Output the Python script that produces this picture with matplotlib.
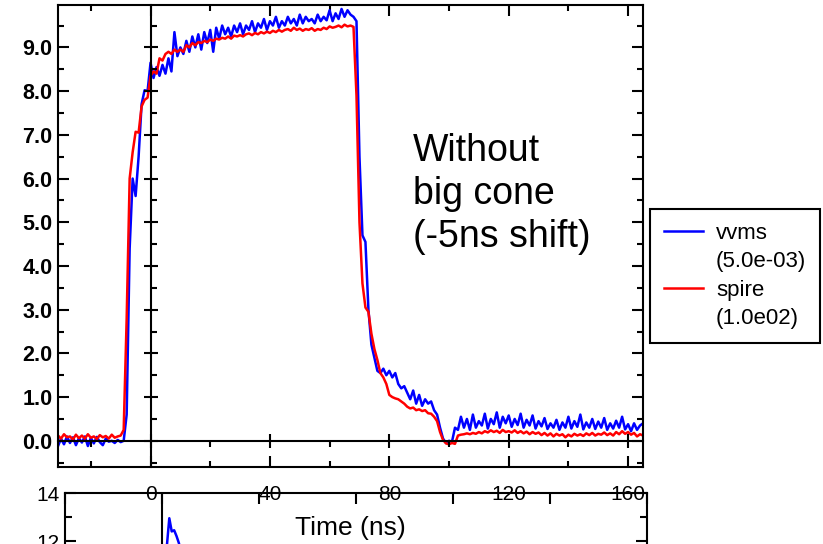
import numpy as np
import matplotlib
matplotlib.use("Agg")
import matplotlib.pyplot as plt
from matplotlib.lines import Line2D
from matplotlib.ticker import MultipleLocator, FormatStrFormatter

plt.rcParams['font.family'] = ['Liberation Sans', 'DejaVu Sans']

# sample times, 1 ns grid from -31 ns to 165 ns
time_ns = np.arange(-31, 166)

# vvms trace (scaled by 5.0e-03), one row = 10 samples
vvms = [
    -0.12, 0.05, -0.08, 0.10, -0.05, 0.08, -0.10, 0.06, -0.04, 0.10,   # -31
    -0.12, 0.07, -0.06, 0.09, -0.03, -0.10, 0.05, -0.02, 0.00, -0.05,  # -21
    0.02, -0.03, 0.00, 0.60, 4.40, 6.00, 5.60, 6.50, 7.70, 8.02,       # -11
    8.00, 8.65, 8.30, 8.55, 8.35, 8.60, 8.40, 8.75, 8.45, 9.35,        # -1
    8.80, 9.00, 8.85, 9.15, 8.90, 9.25, 9.00, 9.30, 8.95, 9.35,        # 9
    9.10, 9.40, 8.90, 9.45, 9.20, 9.50, 9.30, 9.45, 9.25, 9.50,        # 19
    9.35, 9.55, 9.30, 9.50, 9.40, 9.60, 9.35, 9.55, 9.45, 9.65,        # 29
    9.40, 9.60, 9.50, 9.70, 9.45, 9.60, 9.50, 9.70, 9.55, 9.65,        # 39
    9.50, 9.75, 9.55, 9.70, 9.60, 9.65, 9.55, 9.75, 9.60, 9.70,        # 49
    9.62, 9.85, 9.60, 9.78, 9.65, 9.88, 9.70, 9.85, 9.75, 9.70,        # 59
    9.60, 6.50, 4.70, 4.55, 3.00, 2.20, 1.90, 1.60, 1.55, 1.65,        # 69
    1.50, 1.60, 1.45, 1.55, 1.30, 1.20, 1.25, 1.10, 0.95, 1.15,        # 79
    0.85, 1.05, 0.80, 0.95, 0.85, 0.90, 0.70, 0.60, 0.30, 0.05,        # 89
    -0.05, 0.00, -0.02, 0.30, 0.25, 0.55, 0.30, 0.50, 0.25, 0.60,      # 99
    0.30, 0.45, 0.35, 0.62, 0.28, 0.50, 0.38, 0.65, 0.30, 0.55,        # 109
    0.40, 0.58, 0.32, 0.50, 0.36, 0.62, 0.30, 0.48, 0.35, 0.58,        # 119
    0.28, 0.45, 0.33, 0.52, 0.27, 0.40, 0.30, 0.48, 0.25, 0.42,        # 129
    0.30, 0.55, 0.28, 0.45, 0.32, 0.60, 0.26, 0.42, 0.30, 0.50,        # 139
    0.27, 0.44, 0.30, 0.52, 0.25, 0.40, 0.28, 0.46, 0.30, 0.55,        # 149
    0.26, 0.38, 0.22, 0.40, 0.25, 0.35, 0.40,                          # 159
]

# spire trace (scaled by 1.0e02)
spire = [
    0.12, 0.05, 0.15, 0.08, 0.10, 0.03, 0.14, 0.06, 0.12, 0.05,        # -31
    0.15, 0.07, 0.10, 0.04, 0.13, 0.08, 0.11, 0.05, 0.14, 0.07,        # -21
    0.10, 0.12, 0.25, 2.80, 6.00, 6.60, 7.07, 7.05, 7.65, 7.80,        # -11
    7.85, 8.35, 8.45, 8.40, 8.75, 8.70, 8.85, 8.90, 8.85, 8.95,        # -1
    8.90, 8.95, 8.90, 9.05, 9.00, 9.10, 9.05, 9.12, 9.10, 9.15,        # 9
    9.12, 9.18, 9.15, 9.20, 9.18, 9.22, 9.20, 9.25, 9.20, 9.27,        # 19
    9.25, 9.28, 9.25, 9.30, 9.32, 9.28, 9.33, 9.30, 9.35, 9.32,        # 29
    9.36, 9.33, 9.38, 9.35, 9.40, 9.36, 9.40, 9.42, 9.38, 9.45,        # 39
    9.40, 9.43, 9.38, 9.42, 9.40, 9.44, 9.38, 9.42, 9.40, 9.45,        # 49
    9.42, 9.48, 9.45, 9.47, 9.50, 9.46, 9.52, 9.48, 9.50, 9.47,        # 59
    7.90, 5.00, 3.60, 3.05, 2.95, 2.45, 2.10, 1.85, 1.55, 1.45,        # 69
    1.30, 1.05, 1.00, 0.97, 0.95, 0.90, 0.85, 0.78, 0.74, 0.76,        # 79
    0.70, 0.72, 0.68, 0.70, 0.63, 0.62, 0.55, 0.45, 0.20, 0.02,        # 89
    -0.06, -0.08, -0.05, -0.07, 0.12, 0.14, 0.15, 0.17, 0.15, 0.18,    # 99
    0.16, 0.20, 0.17, 0.22, 0.19, 0.24, 0.20, 0.23, 0.18, 0.25,        # 109
    0.20, 0.22, 0.19, 0.24, 0.18, 0.22, 0.17, 0.21, 0.15, 0.20,        # 119
    0.16, 0.19, 0.13, 0.18, 0.12, 0.17, 0.10, 0.16, 0.12, 0.15,        # 129
    0.08, 0.14, 0.10, 0.16, 0.12, 0.15, 0.11, 0.17, 0.13, 0.18,        # 139
    0.12, 0.16, 0.14, 0.19, 0.13, 0.17, 0.12, 0.20, 0.15, 0.22,        # 149
    0.16, 0.20, 0.14, 0.18, 0.10, 0.15, 0.12,                          # 159
]

series_names = ["vvms", "spire"]
series_scales = ["(5.0e-03)", "(1.0e02)"]
note = "Without\nbig cone\n(-5ns shift)"

# the next panel below, only its top edge is inside the picture
lower_t = [0.5, 1.0, 1.5, 2.0, 2.5, 3.0, 3.5, 4.0, 5.0]
lower_v = [9.0, 11.8, 12.95, 12.4, 12.45, 12.2, 11.9, 11.2, 10.5]

fig = plt.figure(figsize=(8.23, 5.44), dpi=100)

# lower panel first so the main axis labels sit on top of it
ax2 = fig.add_axes([0.0790, -0.1710, 0.7072, 0.2647])
ax2.set_facecolor('none')
ax2.plot(lower_t, lower_v, color='#0000ff', lw=1.8)
ax2.axvline(0, color='black', lw=1.5)
ax2.set_xlim(-20, 100)
ax2.set_ylim(8, 14)
ax2.xaxis.set_major_locator(MultipleLocator(20))
ax2.yaxis.set_major_locator(MultipleLocator(2))
ax2.yaxis.set_minor_locator(MultipleLocator(1))
ax2.tick_params(which='both', direction='in', top=True, right=True,
                bottom=False, labelbottom=False, width=1.5)
ax2.tick_params(which='major', length=8, labelsize=15, pad=4)
ax2.tick_params(which='minor', length=5)
for s in ax2.spines.values():
    s.set_linewidth(1.5)

ax = fig.add_axes([0.0705, 0.1415, 0.7108, 0.8493])
l1, = ax.plot(time_ns, vvms, color='#0000ff', lw=1.8)
l2, = ax.plot(time_ns, spire, color='#ff0000', lw=1.8)
ax.set_xlim(-31, 165)
ax.set_ylim(-0.6, 9.97)
ax.xaxis.set_major_locator(MultipleLocator(40))
ax.xaxis.set_minor_locator(MultipleLocator(20))
ax.yaxis.set_major_locator(MultipleLocator(1))
ax.yaxis.set_minor_locator(MultipleLocator(0.5))
ax.yaxis.set_major_formatter(FormatStrFormatter('%.1f'))
ax.tick_params(which='both', direction='in', top=True, right=True, width=1.5)
ax.tick_params(which='major', length=8)
ax.tick_params(which='minor', length=4)
ax.tick_params(axis='x', labelsize=15, pad=13)
ax.tick_params(axis='y', labelsize=15.5, pad=4)
for lab in ax.get_yticklabels():
    lab.set_fontweight('bold')
for s in ax.spines.values():
    s.set_linewidth(1.5)
ax.set_xlabel("Time (ns)", fontsize=19)
ax.xaxis.set_label_coords(0.5, -0.106)

ax.text(0.607, 0.724, note, transform=ax.transAxes, fontsize=27,
        va='top', ha='left', linespacing=1.25)

# zero lines with their own crossing ticks
zero = fig.add_axes(ax.get_position(), sharex=ax, sharey=ax)
zero.patch.set_visible(False)
zero.spines['top'].set_visible(False)
zero.spines['right'].set_visible(False)
zero.spines['left'].set_position(('data', 0))
zero.spines['bottom'].set_position(('data', 0))
zero.spines['left'].set_linewidth(1.5)
zero.spines['bottom'].set_linewidth(1.5)
zero.tick_params(which='both', labelleft=False, labelbottom=False, width=1.5)
zero.tick_params(which='major', direction='inout', length=10)
zero.xaxis.set_tick_params(which='minor', direction='out', length=4)
zero.yaxis.set_tick_params(which='minor', direction='in', length=4)

# legend: name on the first row, scale factor on the row below it
blank = Line2D([], [], color='none')
leg = ax.legend([l1, blank, l2, blank],
                [series_names[0], series_scales[0], series_names[1], series_scales[1]],
                loc='upper left', bbox_to_anchor=(0.7898, 0.6158),
                bbox_transform=fig.transFigure, borderaxespad=0,
                fontsize=16, frameon=True, fancybox=False,
                edgecolor='black', framealpha=1, handlelength=1.75,
                handletextpad=0.6, borderpad=0.62, labelspacing=0.34)
leg.get_frame().set_linewidth(1.5)

fig.savefig('out.png', dpi=100)
